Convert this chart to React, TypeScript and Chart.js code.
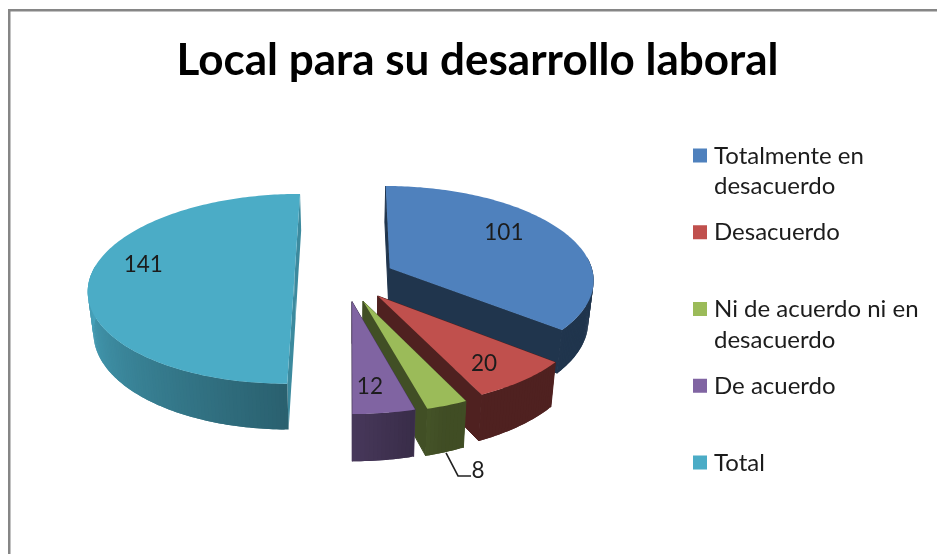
import React, { useEffect, useRef } from "react";
import { Chart, registerables } from "chart.js";

Chart.register(...registerables);

const TITLE = "Local para su desarrollo laboral";
const categories = ["Totalmente en desacuerdo", "Desacuerdo", "Ni de acuerdo ni en desacuerdo", "De acuerdo", "Total"];
const values = [101, 20, 8, 12, 141];
const colors = ["#4F81BD", "#C0504D", "#9BBB59", "#8064A2", "#4BACC6"];

// Exploded-slice displacement, in pie radii (x, y on the pie's plane)
const shiftU = [0.1965, 0.133, 0.062, 0.01, -0.272];
const shiftV = [-0.1054, 0.188, 0.24, 0.246, 0];
const radialWallShade = [0.41, 0.41, 0.42, 0.55, 0.8];
const paintOrder = [0, 4, 1, 2, 3];

// Value label anchors on the pie's plane, in radii
const labelU = [0.796, 0.593, 0.507, 0.086, -1.027];
const labelV = [-0.508, 0.831, 1.668, 1.027, -0.14];

// Projection of the 3D pie
const CX = 350, CY = 278, AX = 204.5, BY = 93.7, PERSP = 0.114, DEPTH = 40.5, TAPER = 0.022;

const FONT = "Lato, 'Noto Sans', sans-serif";
const TEXT = "#1c1c1c";

function project(u: number, v: number, h: number): [number, number] {
  const w = 1 / (1 - PERSP * v);
  return [CX + AX * u * w * (1 - TAPER * h), CY + BY * v * w + DEPTH * h * w];
}

function shadeOf(a: number): number {
  // a: canvas angle; t: degrees clockwise from the top of the pie
  let t = ((a + Math.PI / 2) * 180) / Math.PI;
  t = ((t % 360) + 360) % 360;
  if (t <= 160) return 0.41;
  if (t <= 180) return 0.41 + ((t - 160) / 20) * 0.15;
  if (t <= 270) return 0.56 + ((t - 180) / 90) * 0.39;
  return 0.95;
}

function darken(hex: string, f: number): string {
  const n = parseInt(hex.slice(1), 16);
  return `rgb(${Math.round(((n >> 16) & 255) * f)},${Math.round(((n >> 8) & 255) * f)},${Math.round((n & 255) * f)})`;
}

function poly(ctx: CanvasRenderingContext2D, pts: [number, number][], fill: string, stroke = false) {
  ctx.beginPath();
  pts.forEach((p, i) => (i ? ctx.lineTo(p[0], p[1]) : ctx.moveTo(p[0], p[1])));
  ctx.closePath();
  ctx.fillStyle = fill;
  ctx.fill();
  if (stroke) {
    ctx.strokeStyle = fill;
    ctx.lineWidth = 1;
    ctx.stroke();
  }
}

const pie3d = {
  id: "pie3d",
  beforeDatasetsDraw(chart: any) {
    const ctx: CanvasRenderingContext2D = chart.ctx;
    const meta = chart.getDatasetMeta(0);
    const bg: string[] = chart.data.datasets[0].backgroundColor;
    ctx.save();
    paintOrder.forEach((i) => {
      const arc = meta.data[i];
      const a0 = arc.startAngle, a1 = arc.endAngle;
      const su = shiftU[i], sv = shiftV[i], col = bg[i];
      const edge = (a: number, h: number) => project(su + Math.cos(a), sv + Math.sin(a), h);
      const apex = (h: number) => project(su, sv, h);
      const wall = darken(col, radialWallShade[i]);
      const steps = Math.max(4, Math.round(((a1 - a0) * 180) / Math.PI));
      poly(ctx, [apex(0), edge(a0, 0), edge(a0, 1), apex(1)], wall, i !== 4);
      poly(ctx, [apex(0), edge(a1, 0), edge(a1, 1), apex(1)], wall, i !== 4);
      for (let s = 0; s < steps; s++) {
        const b0 = a0 + ((a1 - a0) * s) / steps;
        const b1 = a0 + ((a1 - a0) * (s + 1)) / steps;
        // only the wall facing the viewer; each quad runs under the next one to hide seams
        if (Math.sin((b0 + b1) / 2) < -0.12) continue;
        const b2 = Math.min(a1, b1 + (a1 - a0) / steps);
        poly(ctx, [edge(b0, 0), edge(b1, 0), edge(b2, 0), edge(b2, 1), edge(b1, 1), edge(b0, 1)], darken(col, shadeOf((b0 + b1) / 2)));
      }
      const top: [number, number][] = [apex(0)];
      for (let s = 0; s <= steps; s++) top.push(edge(a0 + ((a1 - a0) * s) / steps, 0));
      poly(ctx, top, col);
    });

    // value labels
    ctx.font = `22.5px ${FONT}`;
    ctx.fillStyle = TEXT;
    ctx.textAlign = "center";
    ctx.textBaseline = "middle";
    chart.data.datasets[0].data.forEach((val: number, i: number) => {
      const [x, y] = project(labelU[i], labelV[i], 0);
      ctx.fillText(String(val), x, y);
      if (labelV[i] > 1.3) {
        ctx.beginPath();
        ctx.moveTo(x - 32, y - 18);
        ctx.lineTo(x - 20, y + 5);
        ctx.lineTo(x - 7, y + 5);
        ctx.strokeStyle = "#222";
        ctx.lineWidth = 1.6;
        ctx.stroke();
      }
    });
    ctx.restore();
    return false;
  },
};

const frameAndLegend = {
  id: "frameAndLegend",
  beforeDraw(chart: any) {
    const ctx: CanvasRenderingContext2D = chart.ctx;
    ctx.save();
    ctx.fillStyle = "#ffffff";
    ctx.fillRect(0, 0, chart.width, chart.height);
    ctx.fillStyle = "#868686";
    ctx.fillRect(8, 9, chart.width - 8, 2.5);
    ctx.fillRect(8, 9, 2.5, chart.height - 9);
    ctx.restore();
  },
  afterDraw(chart: any) {
    const ctx: CanvasRenderingContext2D = chart.ctx;
    const labels: string[] = chart.data.labels;
    const bg: string[] = chart.data.datasets[0].backgroundColor;
    ctx.save();
    ctx.font = `24px ${FONT}`;
    ctx.textAlign = "left";
    ctx.textBaseline = "alphabetic";
    labels.forEach((label, i) => {
      const cy = 155.5 + 76.75 * i;
      ctx.fillStyle = bg[i];
      ctx.fillRect(693, cy - 7, 14, 14);
      const lines: string[] = [];
      let line = "";
      label.split(" ").forEach((word) => {
        const next = line ? `${line} ${word}` : word;
        if (ctx.measureText(next).width > 222 && line) {
          lines.push(line);
          line = word;
        } else line = next;
      });
      lines.push(line);
      ctx.fillStyle = TEXT;
      lines.forEach((t, j) => ctx.fillText(t, 714, cy + 8 + j * 30.5));
    });
    ctx.restore();
  },
};

export default function App() {
  const ref = useRef<HTMLCanvasElement>(null);
  useEffect(() => {
    if (!ref.current) return;
    const chart = new Chart(ref.current, {
      type: "pie",
      data: {
        labels: categories,
        datasets: [{ data: values, backgroundColor: colors, borderWidth: 0 }],
      },
      options: {
        animation: false,
        responsive: false,
        devicePixelRatio: 1,
        layout: { padding: { left: 18 } },
        plugins: {
          legend: { display: false },
          tooltip: { enabled: false },
          title: {
            display: true,
            text: TITLE,
            color: "#000000",
            font: { family: FONT, size: 44, weight: "bold" },
            padding: { top: 34, bottom: 10 },
          },
        },
      },
      plugins: [frameAndLegend, pie3d],
    } as any);
    return () => chart.destroy();
  }, []);
  return (
    <canvas
      ref={ref}
      width={937}
      height={554}
      style={{ position: "fixed", left: 0, top: 0, width: 937, height: 554, display: "block", filter: "blur(0.5px)" }}
    />
  );
}
